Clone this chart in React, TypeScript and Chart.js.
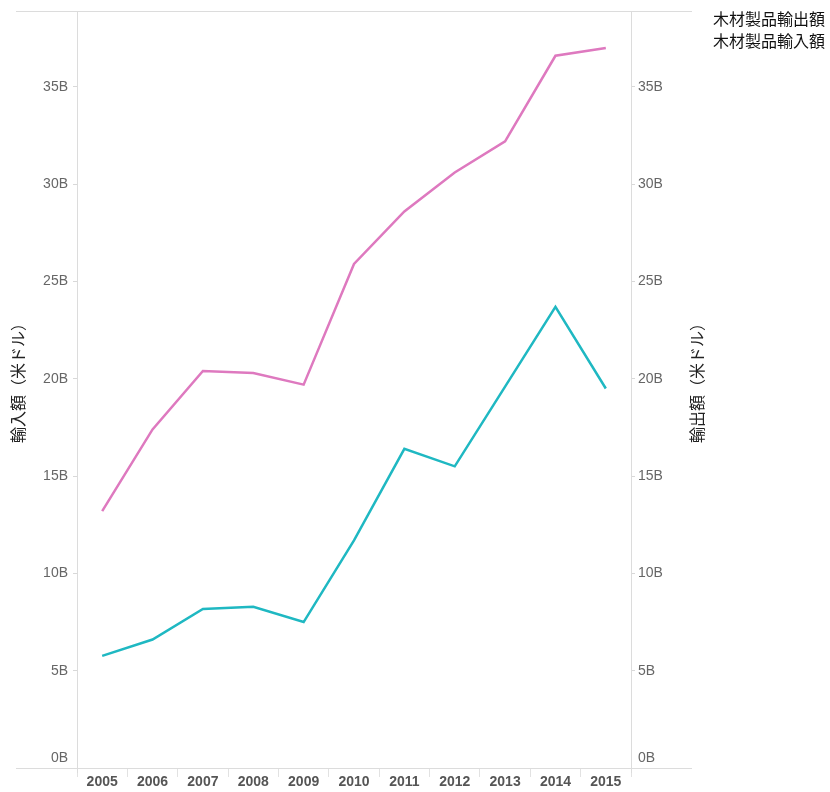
import React, { useEffect, useRef } from "react";
import { Chart, registerables } from "chart.js";

Chart.register(...registerables);

const years = ["2005", "2006", "2007", "2008", "2009", "2010", "2011", "2012", "2013", "2014", "2015"];
// 木材製品輸出額 (billions USD) – right axis
const exportValues = [13.2, 17.4, 20.4, 20.3, 19.7, 25.9, 28.6, 30.6, 32.2, 36.6, 37.0];
// 木材製品輸入額 (billions USD) – left axis
const importValues = [5.76, 6.6, 8.17, 8.28, 7.5, 11.7, 16.4, 15.5, 19.6, 23.7, 19.5];
const yTicks = [0, 5, 10, 15, 20, 25, 30, 35];
const legendLabels = ["木材製品輸出額", "木材製品輸入額"];
const leftTitle = "輸入額（米ドル）";
const rightTitle = "輸出額（米ドル）";

const FONT = "'Liberation Sans', Arial, 'DejaVu Sans', sans-serif";
const JP_FONT = "'Noto Sans CJK JP', sans-serif";

const framePlugin = {
  id: "frame",
  afterDraw(chart: any) {
    const ctx = chart.ctx;
    const a = chart.chartArea;
    ctx.save();
    ctx.strokeStyle = "#dcdcdc";
    ctx.lineWidth = 1;
    ctx.beginPath();
    ctx.moveTo(16, a.top + 0.5);
    ctx.lineTo(692, a.top + 0.5);
    ctx.moveTo(16, a.bottom + 0.5);
    ctx.lineTo(692, a.bottom + 0.5);
    ctx.moveTo(a.left + 0.5, a.top);
    ctx.lineTo(a.left + 0.5, a.bottom + 5);
    ctx.moveTo(a.right + 0.5, a.top);
    ctx.lineTo(a.right + 0.5, a.bottom + 5);
    ctx.stroke();

    // axis titles
    ctx.fillStyle = "#222";
    ctx.font = `16px ${JP_FONT}`;
    ctx.textAlign = "center";
    ctx.textBaseline = "middle";
    const cy = 379;
    ctx.save();
    ctx.translate(18, cy);
    ctx.rotate(-Math.PI / 2);
    ctx.fillText(leftTitle, 0, 0);
    ctx.restore();
    ctx.save();
    ctx.translate(697, cy);
    ctx.rotate(-Math.PI / 2);
    ctx.fillText(rightTitle, 0, 0);
    ctx.restore();

    // legend
    ctx.textAlign = "left";
    ctx.fillStyle = "#111";
    ctx.font = `16px ${JP_FONT}`;
    ctx.fillText(legendLabels[0], 713, 19);
    ctx.fillText(legendLabels[1], 713, 41);
    ctx.restore();
  },
};

const zeroPad = (s: any) => {
  s.paddingTop = 0;
  s.paddingBottom = 0;
  s.paddingLeft = 0;
  s.paddingRight = 0;
};

export default function App() {
  const ref = useRef<HTMLCanvasElement | null>(null);
  useEffect(() => {
    if (!ref.current) return;
    const yMax = 38.9;
    const tickFont = (c: any) =>
      c.tick && c.tick.value === 0
        ? { family: FONT, size: 14, lineHeight: 1.45 }
        : { family: FONT, size: 14, lineHeight: 1.2 };
    const tickCb = (v: any) => (v === 0 ? ["0B", ""] : `${v}B`);
    const chart = new Chart(ref.current, {
      type: "line",
      data: {
        labels: years,
        datasets: [
          {
            label: legendLabels[0],
            data: exportValues,
            borderColor: "#de79bf",
            backgroundColor: "#de79bf",
            borderWidth: 2.5,
            pointRadius: 0,
            tension: 0,
            yAxisID: "yR",
          },
          {
            label: legendLabels[1],
            data: importValues,
            borderColor: "#1fb8c2",
            backgroundColor: "#1fb8c2",
            borderWidth: 2.5,
            pointRadius: 0,
            tension: 0,
            yAxisID: "yL",
          },
        ],
      },
      options: {
        responsive: false,
        animation: false,
        layout: { padding: { top: 11, left: 0, right: 0, bottom: 0 } },
        plugins: { legend: { display: false }, tooltip: { enabled: false } },
        scales: {
          x: {
            offset: true,
            border: { display: false },
            grid: {
              offset: true,
              drawOnChartArea: false,
              drawTicks: true,
              tickLength: 9,
              color: "#e2e2e2",
            },
            ticks: {
              color: "#555",
              font: { family: FONT, size: 14, weight: "bold" },
              padding: -3,
              maxRotation: 0,
              autoSkip: false,
            },
            afterFit: (s: any) => {
              s.height = 24;
              zeroPad(s);
            },
          },
          yL: {
            position: "left",
            min: 0,
            max: yMax,
            border: { display: false },
            grid: { drawOnChartArea: false, tickLength: 4, color: "#d8d8d8" },
            ticks: { color: "#666", font: tickFont, padding: 5, callback: tickCb },
            afterBuildTicks: (s: any) => {
              s.ticks = yTicks.map((v) => ({ value: v }));
            },
            afterFit: (s: any) => {
              s.width = 77;
              zeroPad(s);
            },
          },
          yR: {
            position: "right",
            min: 0,
            max: yMax,
            border: { display: false },
            grid: { drawOnChartArea: false, tickLength: 4, color: "#d8d8d8" },
            ticks: { color: "#666", font: tickFont, padding: 3, callback: tickCb },
            afterBuildTicks: (s: any) => {
              s.ticks = yTicks.map((v) => ({ value: v }));
            },
            afterFit: (s: any) => {
              s.width = 830 - 631;
              zeroPad(s);
            },
          },
        },
      },
      plugins: [framePlugin],
    } as any);
    return () => chart.destroy();
  }, []);
  return (
    <div style={{ position: "absolute", left: 0, top: 0, width: 830, height: 792 }}>
      <canvas ref={ref} width={830} height={792} style={{ display: "block" }} />
    </div>
  );
}
